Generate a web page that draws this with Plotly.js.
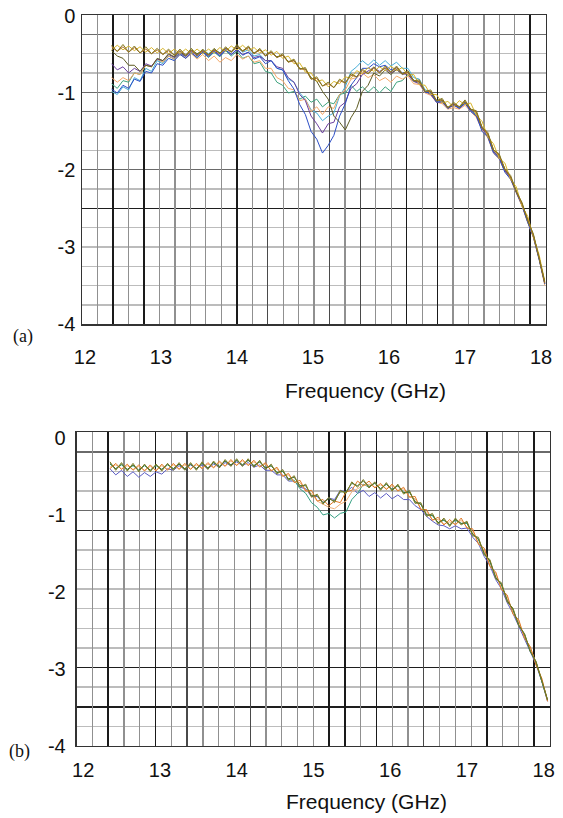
<!DOCTYPE html>
<html><head><meta charset="utf-8">
<script src="https://cdn.plot.ly/plotly-3.0.1.min.js"></script>
<style>html,body{margin:0;padding:0;background:#fff}</style>
</head><body><div id="chart" style="width:563px;height:818px"></div>
<script>
// Frequency samples (GHz)
const freq = [12.35,12.425,12.5,12.575,12.65,12.725,12.8,12.875,12.95,13.025,13.1,13.175,13.25,13.325,13.4,13.475,13.55,13.625,13.7,13.775,13.85,13.925,14.0,14.075,14.15,14.225,14.3,14.375,14.45,14.525,14.6,14.675,14.75,14.825,14.9,14.975,15.05,15.125,15.2,15.275,15.35,15.425,15.5,15.575,15.65,15.725,15.8,15.875,15.95,16.025,16.1,16.175,16.25,16.325,16.4,16.475,16.55,16.625,16.7,16.775,16.85,16.925,17.0,17.075,17.15,17.225,17.3,17.375,17.45,17.525,17.6,17.675,17.75,17.825,17.9,17.975,18.05];

// Panel (a) series
const aOlive = [-0.38,-0.46,-0.37,-0.47,-0.39,-0.48,-0.40,-0.49,-0.42,-0.50,-0.43,-0.51,-0.43,-0.51,-0.42,-0.51,-0.43,-0.51,-0.42,-0.49,-0.40,-0.47,-0.37,-0.46,-0.39,-0.49,-0.42,-0.52,-0.45,-0.54,-0.49,-0.60,-0.56,-0.69,-0.67,-0.82,-0.79,-0.91,-0.86,-0.93,-0.82,-0.87,-0.75,-0.79,-0.69,-0.75,-0.66,-0.74,-0.65,-0.73,-0.65,-0.75,-0.71,-0.84,-0.83,-0.98,-0.96,-1.10,-1.07,-1.19,-1.12,-1.18,-1.09,-1.21,-1.23,-1.45,-1.51,-1.74,-1.79,-1.99,-2.07,-2.28,-2.42,-2.66,-2.83,-3.14,-3.45];
const aYellow = [-0.44,-0.38,-0.44,-0.39,-0.45,-0.40,-0.47,-0.41,-0.48,-0.42,-0.49,-0.43,-0.49,-0.43,-0.49,-0.43,-0.49,-0.43,-0.48,-0.41,-0.46,-0.39,-0.44,-0.38,-0.45,-0.41,-0.48,-0.44,-0.51,-0.46,-0.55,-0.52,-0.62,-0.61,-0.73,-0.74,-0.85,-0.83,-0.92,-0.85,-0.88,-0.79,-0.81,-0.71,-0.75,-0.67,-0.72,-0.66,-0.71,-0.65,-0.71,-0.67,-0.77,-0.76,-0.89,-0.90,-1.02,-1.02,-1.13,-1.11,-1.18,-1.10,-1.15,-1.13,-1.29,-1.37,-1.57,-1.66,-1.85,-1.91,-2.12,-2.22,-2.47,-2.60,-2.87,-3.10,-3.45];
const aBrown = [-0.40,-0.46,-0.40,-0.47,-0.41,-0.48,-0.43,-0.49,-0.44,-0.50,-0.45,-0.51,-0.45,-0.51,-0.45,-0.51,-0.45,-0.51,-0.44,-0.49,-0.42,-0.47,-0.40,-0.46,-0.41,-0.49,-0.44,-0.52,-0.47,-0.54,-0.51,-0.60,-0.58,-0.69,-0.69,-0.82,-0.81,-0.91,-0.88,-0.93,-0.84,-0.87,-0.77,-0.79,-0.71,-0.75,-0.68,-0.74,-0.67,-0.73,-0.67,-0.75,-0.73,-0.84,-0.85,-0.98,-0.98,-1.10,-1.09,-1.19,-1.14,-1.18,-1.11,-1.21,-1.25,-1.45,-1.53,-1.74,-1.81,-1.99,-2.09,-2.28,-2.44,-2.66,-2.85,-3.14,-3.47];
const aDarkOlive = [-0.45,-0.52,-0.55,-0.64,-0.64,-0.72,-0.64,-0.66,-0.55,-0.58,-0.49,-0.53,-0.46,-0.52,-0.44,-0.49,-0.45,-0.50,-0.44,-0.48,-0.42,-0.46,-0.40,-0.45,-0.41,-0.48,-0.44,-0.51,-0.47,-0.53,-0.51,-0.59,-0.58,-0.68,-0.69,-0.80,-0.85,-0.98,-1.08,-1.30,-1.38,-1.48,-1.32,-1.20,-0.98,-0.90,-0.74,-0.78,-0.70,-0.76,-0.69,-0.76,-0.73,-0.84,-0.85,-0.98,-0.98,-1.10,-1.09,-1.19,-1.14,-1.18,-1.11,-1.21,-1.25,-1.45,-1.53,-1.74,-1.81,-1.99,-2.09,-2.28,-2.44,-2.66,-2.85,-3.14,-3.47];
const aBlue = [-0.95,-1.00,-0.90,-0.94,-0.82,-0.85,-0.72,-0.74,-0.62,-0.64,-0.55,-0.58,-0.50,-0.55,-0.48,-0.54,-0.47,-0.53,-0.46,-0.52,-0.44,-0.50,-0.43,-0.51,-0.47,-0.56,-0.53,-0.62,-0.58,-0.68,-0.70,-0.84,-0.95,-1.15,-1.28,-1.50,-1.60,-1.78,-1.68,-1.55,-1.30,-1.14,-0.90,-0.80,-0.68,-0.68,-0.62,-0.66,-0.64,-0.70,-0.67,-0.74,-0.73,-0.84,-0.86,-0.99,-1.00,-1.12,-1.11,-1.20,-1.15,-1.20,-1.13,-1.24,-1.30,-1.50,-1.57,-1.78,-1.85,-2.03,-2.12,-2.30,-2.46,-2.68,-2.87,-3.16,-3.48];
const aPurple = [-0.62,-0.70,-0.66,-0.74,-0.68,-0.72,-0.62,-0.65,-0.56,-0.58,-0.50,-0.54,-0.48,-0.53,-0.46,-0.52,-0.46,-0.52,-0.45,-0.51,-0.44,-0.50,-0.44,-0.50,-0.47,-0.54,-0.52,-0.58,-0.58,-0.66,-0.68,-0.80,-0.86,-1.02,-1.10,-1.30,-1.40,-1.52,-1.40,-1.38,-1.18,-1.12,-0.94,-0.88,-0.76,-0.72,-0.67,-0.72,-0.68,-0.74,-0.70,-0.75,-0.76,-0.85,-0.88,-0.98,-1.02,-1.12,-1.12,-1.20,-1.16,-1.20,-1.14,-1.22,-1.30,-1.46,-1.56,-1.76,-1.84,-2.01,-2.10,-2.29,-2.45,-2.67,-2.86,-3.15,-3.47];
const aPeach = [-0.80,-0.86,-0.80,-0.84,-0.74,-0.76,-0.64,-0.66,-0.56,-0.60,-0.52,-0.56,-0.50,-0.55,-0.49,-0.56,-0.50,-0.58,-0.52,-0.60,-0.54,-0.58,-0.50,-0.56,-0.52,-0.60,-0.58,-0.68,-0.68,-0.80,-0.84,-0.94,-0.96,-1.10,-1.08,-1.24,-1.18,-1.28,-1.18,-1.20,-1.02,-0.96,-0.82,-0.80,-0.74,-0.80,-0.76,-0.84,-0.80,-0.86,-0.78,-0.82,-0.78,-0.88,-0.89,-1.00,-1.03,-1.12,-1.14,-1.21,-1.19,-1.21,-1.16,-1.24,-1.32,-1.48,-1.58,-1.78,-1.86,-2.02,-2.12,-2.30,-2.47,-2.68,-2.88,-3.16,-3.50];
const aTeal = [-0.88,-0.94,-0.84,-0.86,-0.74,-0.76,-0.64,-0.66,-0.56,-0.60,-0.52,-0.56,-0.49,-0.55,-0.48,-0.54,-0.47,-0.54,-0.47,-0.53,-0.45,-0.52,-0.46,-0.55,-0.52,-0.62,-0.60,-0.72,-0.74,-0.86,-0.90,-1.00,-0.98,-1.08,-1.04,-1.12,-1.08,-1.18,-1.12,-1.14,-1.02,-1.00,-0.90,-0.98,-0.92,-0.99,-0.92,-1.00,-0.92,-0.98,-0.86,-0.84,-0.76,-0.85,-0.86,-0.99,-1.00,-1.11,-1.10,-1.20,-1.15,-1.19,-1.12,-1.22,-1.28,-1.47,-1.55,-1.76,-1.83,-2.00,-2.10,-2.28,-2.45,-2.66,-2.86,-3.14,-3.47];
const aCyan = [-0.98,-1.02,-0.92,-0.96,-0.80,-0.84,-0.68,-0.72,-0.58,-0.62,-0.52,-0.56,-0.48,-0.52,-0.45,-0.50,-0.44,-0.49,-0.43,-0.48,-0.42,-0.47,-0.40,-0.47,-0.44,-0.52,-0.50,-0.58,-0.58,-0.68,-0.70,-0.82,-0.86,-1.00,-1.08,-1.22,-1.26,-1.36,-1.30,-1.26,-1.04,-0.92,-0.72,-0.66,-0.58,-0.64,-0.57,-0.64,-0.58,-0.65,-0.60,-0.68,-0.68,-0.80,-0.82,-0.96,-0.98,-1.10,-1.09,-1.19,-1.14,-1.19,-1.12,-1.23,-1.28,-1.48,-1.56,-1.77,-1.84,-2.02,-2.11,-2.29,-2.46,-2.67,-2.87,-3.15,-3.48];

// Panel (b) series
const bOlive = [-0.31,-0.42,-0.32,-0.43,-0.33,-0.44,-0.34,-0.44,-0.34,-0.43,-0.33,-0.42,-0.32,-0.42,-0.32,-0.42,-0.31,-0.41,-0.30,-0.39,-0.28,-0.37,-0.27,-0.37,-0.27,-0.38,-0.29,-0.41,-0.34,-0.47,-0.41,-0.55,-0.49,-0.64,-0.60,-0.77,-0.73,-0.86,-0.77,-0.84,-0.68,-0.72,-0.57,-0.64,-0.54,-0.65,-0.57,-0.68,-0.58,-0.69,-0.60,-0.73,-0.68,-0.85,-0.84,-1.02,-0.98,-1.12,-1.04,-1.15,-1.04,-1.13,-1.08,-1.27,-1.29,-1.52,-1.58,-1.83,-1.88,-2.13,-2.21,-2.44,-2.54,-2.77,-2.90,-3.15,-3.40];
const bOrange = [-0.40,-0.33,-0.41,-0.34,-0.42,-0.35,-0.43,-0.35,-0.43,-0.34,-0.42,-0.33,-0.41,-0.33,-0.41,-0.33,-0.40,-0.32,-0.39,-0.30,-0.37,-0.28,-0.36,-0.28,-0.36,-0.29,-0.38,-0.32,-0.43,-0.38,-0.50,-0.46,-0.58,-0.55,-0.69,-0.68,-0.82,-0.80,-0.88,-0.82,-0.84,-0.70,-0.68,-0.56,-0.62,-0.56,-0.65,-0.59,-0.67,-0.60,-0.69,-0.64,-0.77,-0.76,-0.93,-0.93,-1.07,-1.03,-1.13,-1.06,-1.13,-1.04,-1.17,-1.18,-1.38,-1.43,-1.67,-1.74,-1.97,-2.04,-2.29,-2.36,-2.60,-2.71,-2.95,-3.12,-3.42];
const bPurple = [-0.40,-0.48,-0.42,-0.50,-0.44,-0.51,-0.45,-0.50,-0.44,-0.47,-0.40,-0.42,-0.36,-0.41,-0.35,-0.40,-0.35,-0.40,-0.34,-0.38,-0.32,-0.36,-0.31,-0.36,-0.32,-0.38,-0.35,-0.42,-0.42,-0.48,-0.48,-0.56,-0.56,-0.64,-0.66,-0.76,-0.76,-0.84,-0.78,-0.80,-0.68,-0.70,-0.64,-0.72,-0.68,-0.76,-0.71,-0.78,-0.72,-0.79,-0.74,-0.80,-0.80,-0.88,-0.93,-1.02,-1.08,-1.13,-1.14,-1.18,-1.14,-1.18,-1.17,-1.29,-1.37,-1.54,-1.66,-1.84,-1.96,-2.14,-2.28,-2.45,-2.60,-2.78,-2.94,-3.16,-3.42];
const bTeal = [-0.34,-0.40,-0.35,-0.41,-0.36,-0.42,-0.36,-0.42,-0.36,-0.41,-0.35,-0.40,-0.34,-0.40,-0.34,-0.40,-0.33,-0.39,-0.32,-0.37,-0.30,-0.35,-0.29,-0.35,-0.29,-0.36,-0.31,-0.39,-0.36,-0.45,-0.43,-0.54,-0.55,-0.66,-0.72,-0.84,-0.90,-1.00,-0.98,-1.04,-0.98,-0.96,-0.80,-0.72,-0.60,-0.64,-0.58,-0.66,-0.60,-0.67,-0.62,-0.71,-0.70,-0.83,-0.86,-1.00,-1.01,-1.10,-1.07,-1.13,-1.07,-1.11,-1.11,-1.25,-1.32,-1.50,-1.61,-1.81,-1.91,-2.11,-2.23,-2.43,-2.55,-2.77,-2.91,-3.15,-3.41];
const bDarkGreen = [-0.33,-0.40,-0.34,-0.41,-0.35,-0.42,-0.35,-0.42,-0.35,-0.41,-0.34,-0.40,-0.34,-0.40,-0.34,-0.40,-0.33,-0.39,-0.32,-0.37,-0.30,-0.35,-0.29,-0.35,-0.29,-0.36,-0.31,-0.39,-0.36,-0.45,-0.43,-0.53,-0.51,-0.62,-0.62,-0.75,-0.75,-0.84,-0.79,-0.82,-0.70,-0.70,-0.59,-0.62,-0.56,-0.63,-0.59,-0.66,-0.60,-0.67,-0.62,-0.71,-0.70,-0.83,-0.86,-1.00,-1.00,-1.10,-1.06,-1.13,-1.06,-1.11,-1.10,-1.25,-1.31,-1.50,-1.60,-1.81,-1.90,-2.11,-2.23,-2.43,-2.55,-2.77,-2.91,-3.15,-3.40];
const bPeach = [-0.38,-0.35,-0.40,-0.36,-0.41,-0.37,-0.42,-0.37,-0.42,-0.36,-0.41,-0.35,-0.40,-0.35,-0.40,-0.35,-0.39,-0.34,-0.38,-0.32,-0.36,-0.30,-0.35,-0.30,-0.35,-0.31,-0.37,-0.34,-0.42,-0.40,-0.49,-0.48,-0.57,-0.58,-0.68,-0.72,-0.82,-0.86,-0.90,-0.92,-0.86,-0.82,-0.70,-0.66,-0.62,-0.60,-0.64,-0.61,-0.66,-0.62,-0.68,-0.66,-0.76,-0.79,-0.92,-0.96,-1.06,-1.06,-1.12,-1.09,-1.12,-1.07,-1.16,-1.21,-1.37,-1.46,-1.66,-1.76,-1.96,-2.06,-2.28,-2.38,-2.59,-2.72,-2.94,-3.13,-3.41];

// Tick labels
const xTickVals = [12,13,14,15,16,17,18];
const xTickText = ['12','13','14','15','16','17','18'];
const yTickVals = [0,-1,-2,-3,-4];
const yTickText = ['0','-1','-2','-3','-4'];
const xTitle = 'Frequency (GHz)';
const panelLabels = ['(a)','(b)'];

// Grid lines (grid-cell indices)
const aDarkV = [2,4,10,21,23,29];
const aMidV = [12,16,18];
const aMidH = [8,11,12,15];
const aDarkH = [6];
const bDarkV = [2,5,16,17,19,26,29];
const bMidV = [7,11,22];
const bMidH = [12,15];
const bDarkH = [2,4,11];

const seriesA = [
  [aCyan,'#49aed8'],[aTeal,'#3ea37e'],[aPeach,'#f3a868'],[aPurple,'#6b3f9e'],[aBlue,'#2d4fc6'],
  [aDarkOlive,'#5d5b22'],[aYellow,'#d8b52a'],[aBrown,'#a9692b'],[aOlive,'#857a1e']
];
const seriesB = [
  [bPurple,'#5c5cc4'],[bTeal,'#35a083'],[bPeach,'#f0b27a'],[bOrange,'#e07b28'],
  [bDarkGreen,'#3f6b2f'],[bOlive,'#7d7a22']
];

const traces = [];
// empty carrier traces so that the grid-overlay axes get drawn
[['x3','y'],['x7','y'],['x4','y'],['x','y3'],['x','y4'],['x','y5'],
 ['x5','y2'],['x8','y2'],['x6','y2'],['x2','y6'],['x2','y7'],['x2','y8']].forEach(([xa,ya]) =>
  traces.push({x:[], y:[], type:'scatter', mode:'lines', xaxis:xa, yaxis:ya, hoverinfo:'skip', showlegend:false}));
seriesA.forEach(([ys,c]) => traces.push({x:freq, y:ys, type:'scatter', mode:'lines', xaxis:'x', yaxis:'y', line:{color:c, width:1}, hoverinfo:'skip'}));
seriesB.forEach(([ys,c]) => traces.push({x:freq, y:ys, type:'scatter', mode:'lines', xaxis:'x2', yaxis:'y2', line:{color:c, width:1}, hoverinfo:'skip'}));

const gridAxis = (over, anchor, range, opts) => Object.assign({
  overlaying: over, anchor: anchor, range: range, autorange:false, showticklabels:false, ticks:'', zeroline:false,
  showline:false, showgrid:true, fixedrange:true
}, opts);

const tickFont = {family:'Liberation Sans, Arial, sans-serif', size:20, color:'#111'};
const dataAxis = (opts) => Object.assign({
  showgrid:false, zeroline:false, showline:false, ticks:'', tickfont:tickFont, fixedrange:true, autorange:false
}, opts);
const frame = {showline:true, mirror:true, linecolor:'#333', linewidth:1.4};

const layout = {
  width:563, height:818, margin:{l:0,r:0,t:0,b:0}, showlegend:false,
  paper_bgcolor:'#fff', plot_bgcolor:'#fff',
  font:{family:'Liberation Sans, Arial, sans-serif', color:'#111'},
  xaxis: dataAxis({domain:[0.1462,0.9693], range:[11.965,18.062], anchor:'y', tickvals:xTickVals, ticktext:xTickText, ticklabelstandoff:19}),
  yaxis: dataAxis({domain:[0.6035,0.9817], range:[-4.004,0.013], anchor:'x', tickvals:yTickVals, ticktext:yTickText, ticklabelstandoff:6}),
  xaxis2: dataAxis({domain:[0.1362,0.9769], range:[11.916,18.082], anchor:'y2', tickvals:xTickVals, ticktext:xTickText, ticklabelstandoff:10}),
  yaxis2: dataAxis({domain:[0.0880,0.4715], range:[-4.0,0.073], anchor:'x2', tickvals:yTickVals, ticktext:yTickText, ticklabelstandoff:10}),
  // grid overlays panel (a)
  xaxis3: gridAxis('x','y',[0,30],Object.assign({dtick:1, tick0:0, gridcolor:'#909090', gridwidth:1.2}, frame)),
  xaxis7: gridAxis('x','y',[0,30],{tickmode:'array', tickvals:aMidV, gridcolor:'#4a4a4a', gridwidth:1.4}),
  xaxis4: gridAxis('x','y',[0,30],{tickmode:'array', tickvals:aDarkV, gridcolor:'#1a1a1a', gridwidth:1.6}),
  yaxis3: gridAxis('y','x',[0,16],Object.assign({dtick:1, tick0:0, gridcolor:'#bcbcbc', gridwidth:1.4}, frame)),
  yaxis4: gridAxis('y','x',[0,16],{tickmode:'array', tickvals:aMidH, gridcolor:'#6a6a6a', gridwidth:1.3}),
  yaxis5: gridAxis('y','x',[0,16],{tickmode:'array', tickvals:aDarkH, gridcolor:'#1e1e1e', gridwidth:1.4}),
  // grid overlays panel (b)
  xaxis5: gridAxis('x2','y2',[0,30],Object.assign({dtick:1, tick0:0, gridcolor:'#909090', gridwidth:1.2}, frame)),
  xaxis8: gridAxis('x2','y2',[0,30],{tickmode:'array', tickvals:bMidV, gridcolor:'#4a4a4a', gridwidth:1.4}),
  xaxis6: gridAxis('x2','y2',[0,30],{tickmode:'array', tickvals:bDarkV, gridcolor:'#1a1a1a', gridwidth:1.6}),
  yaxis6: gridAxis('y2','x2',[0,16],Object.assign({dtick:1, tick0:0, gridcolor:'#bcbcbc', gridwidth:1.4}, frame)),
  yaxis7: gridAxis('y2','x2',[0,16],{tickmode:'array', tickvals:bMidH, gridcolor:'#6a6a6a', gridwidth:1.3}),
  yaxis8: gridAxis('y2','x2',[0,16],{tickmode:'array', tickvals:bDarkH, gridcolor:'#1e1e1e', gridwidth:1.4}),
  annotations:[
    {text:xTitle, xref:'paper', yref:'paper', x:0.650, y:0.5232, xanchor:'center', yanchor:'middle', showarrow:false, font:{family:'Liberation Sans, Arial, sans-serif', size:21, color:'#111'}},
    {text:xTitle, xref:'paper', yref:'paper', x:0.651, y:0.0196, xanchor:'center', yanchor:'middle', showarrow:false, font:{family:'Liberation Sans, Arial, sans-serif', size:21, color:'#111'}},
    {text:panelLabels[0], xref:'paper', yref:'paper', x:0.0417, y:0.5892, xanchor:'center', yanchor:'middle', showarrow:false, font:{family:'Liberation Serif, Times New Roman, serif', size:18, color:'#111'}},
    {text:panelLabels[1], xref:'paper', yref:'paper', x:0.0346, y:0.0807, xanchor:'center', yanchor:'middle', showarrow:false, font:{family:'Liberation Serif, Times New Roman, serif', size:18, color:'#111'}}
  ]
};

Plotly.newPlot('chart', traces, layout, {staticPlot:true, displayModeBar:false});
</script>
</body></html>
